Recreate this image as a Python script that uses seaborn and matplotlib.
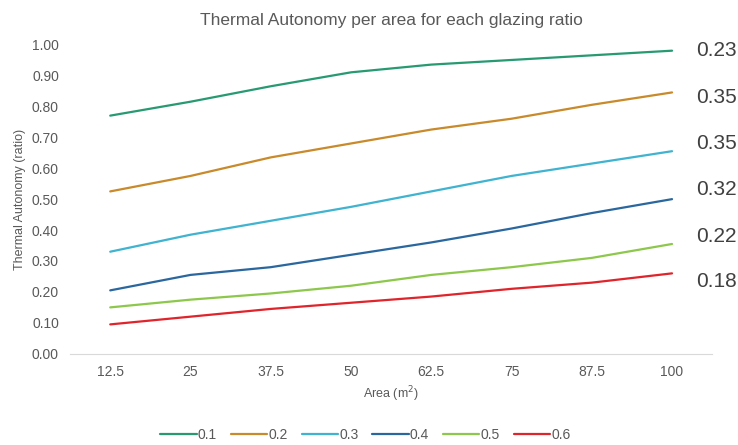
import matplotlib
matplotlib.use("Agg")
import matplotlib.pyplot as plt
import seaborn as sns
import pandas as pd

# ---- data ----
areas = ["12.5", "25", "37.5", "50", "62.5", "75", "87.5", "100"]
ratios = ["0.1", "0.2", "0.3", "0.4", "0.5", "0.6"]
ta_01 = [0.77, 0.815, 0.865, 0.91, 0.935, 0.95, 0.965, 0.98]
ta_02 = [0.525, 0.575, 0.635, 0.68, 0.725, 0.76, 0.805, 0.845]
ta_03 = [0.33, 0.385, 0.43, 0.475, 0.525, 0.575, 0.615, 0.655]
ta_04 = [0.205, 0.255, 0.28, 0.32, 0.36, 0.405, 0.455, 0.50]
ta_05 = [0.15, 0.175, 0.195, 0.22, 0.255, 0.28, 0.31, 0.355]
ta_06 = [0.095, 0.12, 0.145, 0.165, 0.185, 0.21, 0.23, 0.26]
side_labels = ["0.23", "0.35", "0.35", "0.32", "0.22", "0.18"]
side_y = [0.98, 0.83, 0.68, 0.53, 0.38, 0.235]
colors = ["#279a72", "#c88a2a", "#3fb3cf", "#2a679e", "#8dc84c", "#e0242b"]

series = [ta_01, ta_02, ta_03, ta_04, ta_05, ta_06]
rows = []
for r, vals in zip(ratios, series):
    for a, v in zip(areas, vals):
        rows.append({"Area": a, "TA": v, "Ratio": r})
df = pd.DataFrame(rows)

sns.set_style("white")
plt.rcParams["font.family"] = ["Liberation Sans", "DejaVu Sans"]
grey = "#595959"

fig, ax = plt.subplots(figsize=(7.38, 4.45), dpi=100)
fig.subplots_adjust(left=0.095, right=0.965, top=0.9, bottom=0.205)

sns.lineplot(data=df, x="Area", y="TA", hue="Ratio", palette=colors,
             linewidth=1.6, ax=ax, sort=False)

ax.set_xlim(-0.5, 7.5)
ax.set_ylim(0, 1.0)
ax.set_yticks([i / 10 for i in range(11)])
ax.set_yticklabels([f"{i / 10:.2f}" for i in range(11)])
ax.tick_params(axis="both", colors=grey, labelsize=10, length=0, pad=8)
for s in ["top", "right", "left"]:
    ax.spines[s].set_visible(False)
ax.spines["bottom"].set_color("#d9d9d9")

ax.set_xlabel("Area (m$^2$)", color=grey, fontsize=9)
ax.set_ylabel("Thermal Autonomy (ratio)", color=grey, fontsize=9)
ax.set_title("Thermal Autonomy per area for each glazing ratio", color=grey,
             fontsize=12.5, pad=14)

# side values to the right of each line end
for lab, yv in zip(side_labels, side_y):
    ax.text(7.3, yv, lab, ha="left", va="center", fontsize=15,
            color="#404040", clip_on=False)

leg = ax.legend(loc="upper center", bbox_to_anchor=(0.46, -0.2), ncol=6,
                frameon=False, title=None, fontsize=10, handlelength=2.6,
                handletextpad=0.1, columnspacing=1.0)
for t in leg.get_texts():
    t.set_color(grey)

fig.savefig("out.png", dpi=100)
